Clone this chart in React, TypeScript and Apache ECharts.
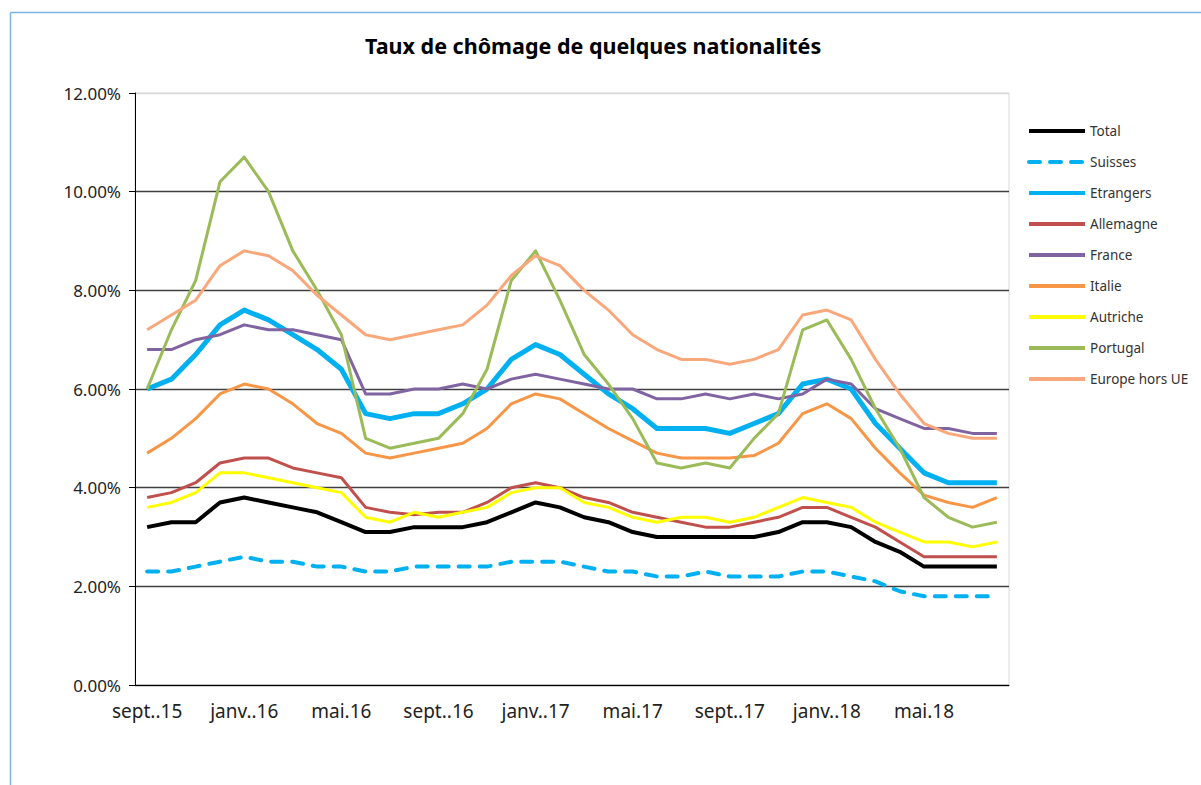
import React, { useEffect, useRef } from "react";
import * as echarts from "echarts";

const months = [
  "sept..15", "oct..15", "nov..15", "déc..15",
  "janv..16", "févr..16", "mars.16", "avr..16", "mai.16", "juin.16", "juil..16", "août.16", "sept..16", "oct..16", "nov..16", "déc..16",
  "janv..17", "févr..17", "mars.17", "avr..17", "mai.17", "juin.17", "juil..17", "août.17", "sept..17", "oct..17", "nov..17", "déc..17",
  "janv..18", "févr..18", "mars.18", "avr..18", "mai.18", "juin.18", "juil..18", "août.18",
];

const total = [3.2, 3.3, 3.3, 3.7, 3.8, 3.7, 3.6, 3.5, 3.3, 3.1, 3.1, 3.2, 3.2, 3.2, 3.3, 3.5, 3.7, 3.6, 3.4, 3.3, 3.1, 3.0, 3.0, 3.0, 3.0, 3.0, 3.1, 3.3, 3.3, 3.2, 2.9, 2.7, 2.4, 2.4, 2.4, 2.4];
const suisses = [2.3, 2.3, 2.4, 2.5, 2.6, 2.5, 2.5, 2.4, 2.4, 2.3, 2.3, 2.4, 2.4, 2.4, 2.4, 2.5, 2.5, 2.5, 2.4, 2.3, 2.3, 2.2, 2.2, 2.3, 2.2, 2.2, 2.2, 2.3, 2.3, 2.2, 2.1, 1.9, 1.8, 1.8, 1.8, 1.8];
const etrangers = [6.0, 6.2, 6.7, 7.3, 7.6, 7.4, 7.1, 6.8, 6.4, 5.5, 5.4, 5.5, 5.5, 5.7, 6.0, 6.6, 6.9, 6.7, 6.3, 5.9, 5.6, 5.2, 5.2, 5.2, 5.1, 5.3, 5.5, 6.1, 6.2, 6.0, 5.3, 4.8, 4.3, 4.1, 4.1, 4.1];
const allemagne = [3.8, 3.9, 4.1, 4.5, 4.6, 4.6, 4.4, 4.3, 4.2, 3.6, 3.5, 3.45, 3.5, 3.5, 3.7, 4.0, 4.1, 4.0, 3.8, 3.7, 3.5, 3.4, 3.3, 3.2, 3.2, 3.3, 3.4, 3.6, 3.6, 3.4, 3.2, 2.9, 2.6, 2.6, 2.6, 2.6];
const france = [6.8, 6.8, 7.0, 7.1, 7.3, 7.2, 7.2, 7.1, 7.0, 5.9, 5.9, 6.0, 6.0, 6.1, 6.0, 6.2, 6.3, 6.2, 6.1, 6.0, 6.0, 5.8, 5.8, 5.9, 5.8, 5.9, 5.8, 5.9, 6.2, 6.1, 5.6, 5.4, 5.2, 5.2, 5.1, 5.1];
const italie = [4.7, 5.0, 5.4, 5.9, 6.1, 6.0, 5.7, 5.3, 5.1, 4.7, 4.6, 4.7, 4.8, 4.9, 5.2, 5.7, 5.9, 5.8, 5.5, 5.2, 4.95, 4.7, 4.6, 4.6, 4.6, 4.65, 4.9, 5.5, 5.7, 5.4, 4.8, 4.3, 3.85, 3.7, 3.6, 3.8];
const autriche = [3.6, 3.7, 3.9, 4.3, 4.3, 4.2, 4.1, 4.0, 3.9, 3.4, 3.3, 3.5, 3.4, 3.5, 3.6, 3.9, 4.0, 4.0, 3.7, 3.6, 3.4, 3.3, 3.4, 3.4, 3.3, 3.4, 3.6, 3.8, 3.7, 3.6, 3.3, 3.1, 2.9, 2.9, 2.8, 2.9];
const portugal = [6.0, 7.2, 8.2, 10.2, 10.7, 10.0, 8.8, 8.0, 7.1, 5.0, 4.8, 4.9, 5.0, 5.5, 6.4, 8.2, 8.8, 7.8, 6.7, 6.1, 5.4, 4.5, 4.4, 4.5, 4.4, 5.0, 5.5, 7.2, 7.4, 6.6, 5.6, 4.8, 3.8, 3.4, 3.2, 3.3];
const europeHorsUE = [7.2, 7.5, 7.8, 8.5, 8.8, 8.7, 8.4, 7.9, 7.5, 7.1, 7.0, 7.1, 7.2, 7.3, 7.7, 8.3, 8.7, 8.5, 8.0, 7.6, 7.1, 6.8, 6.6, 6.6, 6.5, 6.6, 6.8, 7.5, 7.6, 7.4, 6.6, 5.9, 5.3, 5.1, 5.0, 5.0];

const seriesDefs = [
  { name: "Total", data: total, color: "#000000", width: 4 },
  { name: "Suisses", data: suisses, color: "#00B0F0", width: 4, dashed: true },
  { name: "Etrangers", data: etrangers, color: "#00B0F0", width: 5 },
  { name: "Allemagne", data: allemagne, color: "#C0504D", width: 3 },
  { name: "France", data: france, color: "#8064A2", width: 3 },
  { name: "Italie", data: italie, color: "#F79646", width: 3 },
  { name: "Autriche", data: autriche, color: "#FFFF00", width: 3 },
  { name: "Portugal", data: portugal, color: "#9BBB59", width: 3 },
  { name: "Europe hors UE", data: europeHorsUE, color: "#F9A87C", width: 3 },
];

const FONT = "'Noto Sans', 'Open Sans', sans-serif";

export default function App() {
  const ref = useRef<HTMLDivElement>(null);
  useEffect(() => {
    if (!ref.current) return;
    const chart = echarts.init(ref.current, null, { renderer: "svg" });
    chart.setOption({
      animation: false,
      backgroundColor: "#ffffff",
      textStyle: { fontFamily: FONT },
      title: {
        text: "Taux de chômage de quelques nationalités",
        left: 365,
        top: 34,
        padding: 0,
        textStyle: { fontFamily: FONT, fontSize: 21.5, fontWeight: "bold", color: "#000" },
      },
      graphic: [
        { type: "line", shape: { x1: 10.5, y1: 12.5, x2: 1201, y2: 12.5 }, style: { stroke: "#7DB4E8", lineWidth: 1.5 } },
        { type: "line", shape: { x1: 10.5, y1: 12.5, x2: 10.5, y2: 785 }, style: { stroke: "#7DB4E8", lineWidth: 1.5 } },
      ],
      legend: {
        orient: "vertical",
        left: 1027,
        top: 124,
        padding: 0,
        itemWidth: 56,
        itemHeight: 14,
        itemGap: 17,
        textStyle: { fontFamily: FONT, fontSize: 13.5, color: "#333" },
        itemStyle: { opacity: 0 },
        lineStyle: { width: 4 },
        data: seriesDefs.map((s) => s.name),
      },
      grid: {
        left: 135,
        top: 93,
        width: 874,
        height: 592,
        show: true,
        borderColor: "#d9d9d9",
        borderWidth: 1,
        backgroundColor: "transparent",
      },
      xAxis: {
        type: "category",
        data: months,
        boundaryGap: true,
        axisLine: { lineStyle: { color: "#000", width: 1 } },
        axisTick: { interval: 3, length: 6, lineStyle: { color: "#000" } },
        axisLabel: { interval: 3, fontSize: 19, color: "#222", margin: 16, fontFamily: FONT },
        splitLine: { show: false },
      },
      yAxis: {
        type: "value",
        min: 0,
        max: 12,
        interval: 2,
        axisLine: { show: true, lineStyle: { color: "#000", width: 1 } },
        axisTick: { show: true, length: 6, lineStyle: { color: "#000" } },
        axisLabel: {
          fontSize: 17,
          color: "#222",
          margin: 14,
          fontFamily: FONT,
          formatter: (v: number) => v.toFixed(2) + "%",
        },
        splitLine: {
          show: true,
          lineStyle: {
            color: ["#404040", "#404040", "#404040", "#404040", "#404040", "#404040", "#d9d9d9"],
            width: 1.3,
          },
        },
      },
      series: seriesDefs.map((s) => ({
        name: s.name,
        type: "line",
        data: s.data,
        symbol: "none",
        smooth: false,
        color: s.color,
        lineStyle: {
          color: s.color,
          width: s.width,
          type: s.dashed ? [11, 10] : "solid",
          cap: s.dashed ? "round" : "butt",
          join: "round",
        },
      })),
    });
    return () => chart.dispose();
  }, []);
  return (
    <div
      ref={ref}
      style={{ position: "absolute", left: 0, top: 0, width: 1201, height: 785, background: "#fff" }}
    />
  );
}
